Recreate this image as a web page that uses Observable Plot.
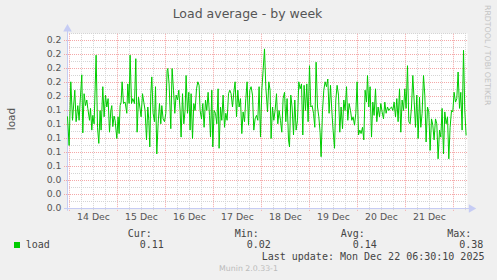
<!DOCTYPE html>
<html><head><meta charset="utf-8">
<script src="https://cdn.jsdelivr.net/npm/d3@7"></script>
<script src="https://cdn.jsdelivr.net/npm/@observablehq/plot@0.6"></script>
<style>
body{margin:0;background:#f0f0f0;}
#wrap{position:relative;width:497px;height:280px;background:#f0f0f0;overflow:hidden;font-family:"DejaVu Sans",sans-serif;}
#wrap svg{position:absolute;left:0;top:0;}
.t{position:absolute;white-space:pre;}
.m{font-family:"DejaVu Sans Mono",monospace;font-size:10px;line-height:10px;color:#444;}
</style></head><body>
<div id="wrap"></div>
<script>
// ---- data (hours after 2025-12-13 23:00 UTC, load values) ----
const hours = [
0,0.8,1.65,2.5,3.65,4.3,5.15,5.8,6.3,7.15,7.65,8.3,9.0,9.65,10.15,11.0,11.5,12.15,12.65,13.3,
14.3,15.0,15.65,16.3,16.8,17.65,18.3,19.0,19.65,20.3,21.0,21.65,22.15,22.65,23.3,23.8,24.65,25.3,25.8,26.3,
26.8,27.3,28.0,28.8,29.65,30.15,30.8,31.3,32.0,32.65,33.5,34.15,34.8,35.5,36.15,36.8,37.5,38.15,38.8,39.5,
40.15,40.65,41.15,41.65,42.15,42.8,43.5,44.0,44.65,45.3,46.0,46.65,47.15,47.8,48.5,49.15,49.8,
50.15,50.8,51.65,52.3,53.0,53.65,54.3,55.0,55.65,56.3,56.8,57.5,58.15,58.8,59.3,60.0,60.65,61.3,61.8,62.5,
63.15,63.8,64.5,65.15,65.8,66.3,67.0,67.65,68.3,69.0,69.65,70.3,71.0,71.5,72.15,72.65,73.3,74.0,74.65,75.3,
75.8,76.5,77.15,77.8,78.5,79.15,79.8,80.5,81.15,81.8,82.5,83.15,83.8,84.5,85.15,85.8,86.5,87.15,87.8,88.5,
89.15,89.8,90.5,91.15,91.8,92.5,93.15,93.8,94.5,95.15,95.8,96.5,97.15,97.8,98.5,99.15,
100.0,100.65,101.3,101.8,102.5,103.15,103.8,104.5,105.15,105.8,106.5,107.15,107.8,108.5,109.15,109.8,110.5,111.0,111.65,112.3,
113.0,113.65,114.3,115.0,115.65,116.3,117.0,117.65,118.3,119.0,119.65,120.3,121.0,121.65,122.3,123.0,123.65,124.3,125.0,125.65,
126.3,126.8,127.5,128.15,128.8,129.5,130.15,130.8,131.5,132.15,132.8,133.5,134.15,134.8,135.5,136.15,136.8,137.5,138.15,138.8,
139.5,140.15,140.8,141.5,142.15,142.8,143.5,144.15,144.8,145.5,146.15,146.8,147.5,148.15,148.8,149.5,
150.0,150.65,151.3,152.0,152.65,153.3,154.0,154.65,155.3,156.0,156.65,157.3,158.0,158.65,159.3,160.0,160.65,161.3,162.0,162.65,
163.3,164.0,164.65,165.3,166.0,166.65,167.3,168.0,168.65,169.3,170.0,170.65,171.3,172.0,172.65,173.3,174.0,174.65,175.3,176.0,
176.65,177.3,178.0,178.65,179.3,180.0,180.65,181.3,182.0,182.65,183.3,184.0,184.65,185.3,186.0,186.65,187.3,188.0,188.65,189.3,
190.0,190.65,191.3,192.0,192.65,193.3,194.0,194.65,195.3,196.0,196.65,197.3,198.0,198.65,199.3
];
const load = [
0.131,0.090,0.181,0.126,0.169,0.124,0.147,0.126,0.152,0.191,0.108,0.164,0.147,0.155,0.143,0.126,0.143,0.112,0.133,0.121,
0.219,0.116,0.093,0.140,0.112,0.174,0.131,0.162,0.145,0.157,0.109,0.140,0.147,0.117,0.132,0.126,0.100,0.131,0.107,0.147,
0.152,0.181,0.150,0.152,0.136,0.178,0.150,0.219,0.150,0.157,0.150,0.214,0.109,0.159,0.145,0.131,0.164,0.152,0.140,0.098,
0.145,0.126,0.088,0.164,0.188,0.136,0.124,0.174,0.078,0.121,0.150,0.121,0.147,0.128,0.124,0.136,0.197,
0.200,0.178,0.114,0.200,0.169,0.136,0.162,0.155,0.169,0.140,0.102,0.164,0.121,0.140,0.190,0.136,0.166,0.112,0.164,0.100,
0.150,0.140,0.171,0.181,0.176,0.140,0.128,0.150,0.116,0.155,0.140,0.166,0.133,0.102,0.169,0.088,0.140,0.136,0.121,0.171,
0.086,0.145,0.126,0.162,0.116,0.136,0.126,0.164,0.169,0.164,0.145,0.166,0.181,0.131,0.169,0.145,0.157,0.107,0.138,0.124,
0.157,0.181,0.119,0.169,0.174,0.162,0.112,0.128,0.133,0.126,0.174,0.102,0.169,0.197,0.228,0.174,
0.138,0.181,0.169,0.100,0.145,0.126,0.140,0.164,0.121,0.140,0.126,0.109,0.157,0.166,0.124,0.157,0.098,0.088,0.162,0.145,
0.105,0.155,0.112,0.126,0.181,0.171,0.178,0.105,0.176,0.140,0.178,0.124,0.204,0.145,0.147,0.136,0.116,0.209,0.145,0.131,
0.109,0.074,0.140,0.169,0.181,0.174,0.185,0.136,0.176,0.140,0.112,0.086,0.155,0.176,0.162,0.109,0.145,0.114,0.155,0.140,
0.174,0.126,0.150,0.140,0.126,0.131,0.119,0.136,0.181,0.105,0.112,0.107,0.116,0.098,0.169,0.152,
0.190,0.145,0.174,0.102,0.152,0.133,0.171,0.124,0.145,0.131,0.150,0.138,0.128,0.152,0.136,0.145,0.140,0.143,0.145,0.140,
0.152,0.131,0.157,0.124,0.171,0.109,0.155,0.140,0.171,0.143,0.204,0.124,0.121,0.145,0.190,0.155,0.116,0.162,0.100,0.159,
0.116,0.136,0.190,0.162,0.095,0.145,0.138,0.083,0.128,0.119,0.098,0.128,0.121,0.071,0.112,0.102,0.143,0.078,0.138,0.121,
0.131,0.071,0.116,0.140,0.138,0.166,0.152,0.157,0.195,0.143,0.166,0.112,0.226,0.140,0.105
];
const yTickValues = [0,0.02,0.04,0.06,0.08,0.10,0.12,0.14,0.16,0.18,0.20,0.22,0.24];
const yMinorValues = [0.01,0.03,0.05,0.07,0.09,0.11,0.13,0.15,0.17,0.19,0.21,0.23,0.25];
const legendHeads = ["Cur:","Min:","Avg:","Max:"];
const legendVals = ["0.11","0.02","0.14","0.38"];
const seriesName = "load";
const titleText = "Load average - by week";
const lastUpdate = "Last update: Mon Dec 22 06:30:10 2025";
const footer = "Munin 2.0.33-1";
const watermark = "RRDTOOL / TOBI OETIKER";

if (hours.length !== load.length) console.error("length mismatch", hours.length, load.length);

const H = 3600e3;
const start = new Date(Date.UTC(2025, 11, 13, 23, 0));
const end = new Date(+start + 200 * H);
const data = d3.zip(hours, load).map(([h, v]) => ({t: new Date(+start + h * H), v}));

const days = d3.utcDay.range(start, end);
const noons = days.map(d => new Date(+d + 12 * H)).filter(d => d < end);
const minorX = d3.utcHour.every(6).range(start, end).filter(d => d.getUTCHours() !== 0);

const red = "#f4a8a8", grey = "#d4d4d4", axisCol = "#c6ccf4";

const svg = Plot.plot({
  width: 497, height: 280,
  marginLeft: 67, marginRight: 30, marginTop: 33, marginBottom: 72,
  style: {background: "transparent", fontFamily: "DejaVu Sans", color: "#555"},
  x: {type: "utc", domain: [start, end]},
  y: {domain: [0, 0.25]},
  marks: [
    Plot.frame({fill: "white", stroke: null}),
    Plot.ruleY(yMinorValues, {stroke: grey, strokeDasharray: "1,1"}),
    Plot.ruleX(minorX, {stroke: grey, strokeDasharray: "1,1", y1: -0.003, y2: 0.25}),
    Plot.ruleY(yTickValues.slice(1), {stroke: red, strokeDasharray: "1,1", x1: new Date(+start - 1.5 * H), x2: end}),
    Plot.ruleX(days, {stroke: red, strokeDasharray: "1,1", y1: -0.004, y2: 0.25}),
    Plot.ruleY([0], {stroke: axisCol, x1: new Date(+start - 1.5 * H), x2: new Date(+start + 201 * H)}),
    Plot.ruleX([start], {stroke: axisCol, y1: -0.004, y2: 0.255}),
    Plot.dot([start], {x: d => d, y: 0.2565, symbol: "triangle", r: 3.2, fill: axisCol, stroke: null}),
    Plot.dot([end], {x: new Date(+start + 201.9 * H), y: 0, symbol: "triangle", r: 3.2, rotate: 90, fill: axisCol, stroke: null}),
    Plot.line(data, {x: "t", y: "v", stroke: "#00cc00", strokeWidth: 1}),
    Plot.axisY({ticks: yTickValues, tickFormat: d3.format(".1f"), tickSize: 0, tickPadding: 6, fontSize: 9.3, fill: "#555", label: null}),
    Plot.axisX({ticks: noons, tickFormat: d3.utcFormat("%-d %b"), tickSize: 0, tickPadding: 4.5, fontSize: 9.3, fill: "#555", label: null})
  ]
});

const wrap = document.getElementById("wrap");
wrap.appendChild(svg);

function add(text, cls, css) {
  const d = document.createElement("div");
  d.className = "t " + (cls || "");
  d.textContent = text;
  Object.assign(d.style, css);
  wrap.appendChild(d);
  return d;
}
// title
add(titleText, "", {width: "497px", textAlign: "center", top: "7.5px", fontSize: "12.5px", lineHeight: "12.5px", color: "#555", left: "-1px"});
// y label
add("load", "", {left: "10.5px", top: "119px", fontSize: "10.5px", lineHeight: "10.5px", color: "#555", transform: "translate(-50%,-50%) rotate(-90deg)"});
// watermark
add(watermark, "", {left: "491px", top: "5px", fontSize: "7.8px", lineHeight: "7px", color: "#c4c4c4", transformOrigin: "0 0", transform: "rotate(90deg)"});
// legend
const sw = document.createElement("div");
Object.assign(sw.style, {position: "absolute", left: "14px", top: "241.5px", width: "6px", height: "6px", background: "#00cc00"});
wrap.appendChild(sw);
add(seriesName, "m", {left: "25.7px", top: "240.3px"});
const headX = [127.7, 234.7, 340.7, 447.3];
legendHeads.forEach((h, i) => add(h, "m", {left: headX[i] + "px", top: "228.6px"}));
legendVals.forEach((v, i) => add(v, "m", {left: (headX[i] + 12) + "px", top: "240.3px"}));
add(lastUpdate, "m", {left: "261.7px", top: "252.2px"});
add(footer, "", {left: "0px", width: "497px", textAlign: "center", top: "265.2px", fontSize: "7.8px", lineHeight: "7.8px", color: "#bbb"});
</script>
</body></html>
